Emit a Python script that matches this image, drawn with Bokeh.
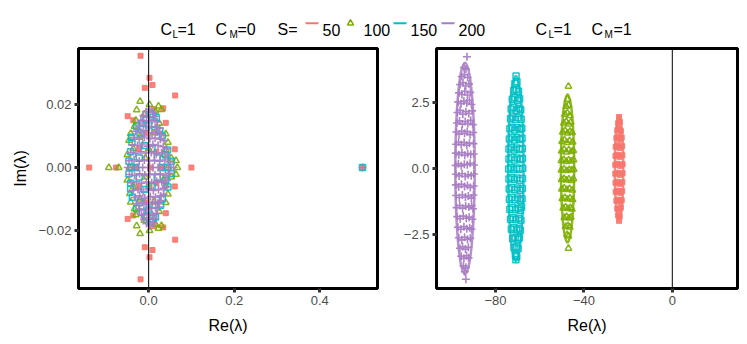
from bokeh.plotting import figure
from bokeh.layouts import column, row
from bokeh.models import Range1d, FixedTicker, Span, Label
from bokeh.embed import file_html
from bokeh.resources import INLINE

# ------------------------------------------------------------------ data
SERIES = ["50", "100", "150", "200"]
COLORS = ["#F8766D", "#7CAE00", "#00BFC4", "#A97DC4"]

# Left panel (C_L=1, C_M=0): eigenvalues (Re, Im)
left_s50 = [
    (-0.139, 0.0), (-0.076, 0.0), (0.100, 0.0), (0.500, 0.0),
    (-0.019, 0.0355), (-0.019, -0.0355), (0.002, 0.0285), (0.002, -0.0285),
    (-0.009, 0.0253), (-0.009, -0.0253), (0.009, 0.0262), (0.009, -0.0262),
    (0.062, 0.0229), (0.062, -0.0229), (-0.049, 0.0163), (-0.049, -0.0163),
    (-0.036, 0.0150), (-0.036, -0.0152), (0.034, 0.0188), (0.034, -0.0190),
    (0.040, 0.0142), (0.040, -0.0145), (0.061, 0.0058), (0.061, -0.0060),
    (0.012, 0.0186), (0.012, -0.0186), (-0.022, 0.0060), (-0.022, -0.0060),
    (0.018, 0.0050), (0.018, -0.0050), (-0.005, 0.0110), (-0.005, -0.0110),
    (-0.030, 0.0), (0.030, 0.0), (0.005, 0.0),
]
left_s100 = [
    (-0.093, 0.0), (-0.070, 0.0), (0.067, 0.0), (0.064, 0.0022), (0.064, -0.0022),
    (-0.020, 0.0210), (-0.020, -0.0210), (0.002, 0.0200), (0.002, -0.0200),
    (-0.028, 0.0183), (-0.028, -0.0185), (0.023, 0.0195), (0.023, -0.0193),
    (0.030, 0.0184), (0.030, -0.0184), (0.016, 0.0178), (0.016, -0.0180),
    (-0.042, 0.0108), (-0.042, -0.0110), (-0.046, 0.0086), (-0.044, -0.0083),
    (0.040, 0.0107), (0.040, -0.0111), (0.045, 0.0080), (0.045, -0.0084),
    (0.040, 0.0057), (0.040, -0.0057), (-0.050, 0.0040), (-0.050, -0.0040),
    (-0.033, 0.0131), (-0.033, -0.0131), (0.053, 0.0030), (0.053, -0.0030),
    (-0.030, 0.0150), (-0.030, -0.0150), (-0.010, 0.0170), (-0.010, -0.0168),
    (0.025, 0.0140), (0.025, -0.0140), (-0.036, 0.0060), (-0.036, -0.0060),
    (0.034, 0.0040), (0.034, -0.0040), (-0.020, 0.0100), (-0.020, -0.0100),
    (0.012, 0.0110), (0.012, -0.0110), (0.000, 0.0060), (0.000, -0.0060),
    (-0.045, 0.0), (0.045, 0.0), (-0.008, 0.0030), (-0.008, -0.0030),
]
left_s150 = [
    (-0.007, 0.0151), (0.005, 0.0170), (0.018, 0.0158), (-0.015, 0.0140), (0.010, 0.0160),
    (-0.040, 0.0096), (-0.039, 0.0080), (0.026, 0.0117), (0.032, 0.0100), (0.044, 0.0056),
    (-0.046, 0.0020), (0.053, 0.0020), (-0.030, 0.0), (0.030, 0.0), (-0.040, 0.0),
    (0.045, 0.0), (0.500, 0.0), (-0.042, 0.0050), (0.040, 0.0040),
    (-0.020, 0.0110), (0.015, 0.0120), (-0.028, 0.0130), (0.000, 0.0135),
    (-0.010, 0.0070), (0.008, 0.0060), (0.020, 0.0030), (-0.022, 0.0030),
    (-0.007, -0.0156), (0.005, -0.0174), (0.016, -0.0157), (-0.015, -0.0142), (0.010, -0.0162),
    (-0.042, -0.0068), (-0.038, -0.0094), (0.028, -0.0120), (0.032, -0.0100), (0.045, -0.0062),
    (-0.046, -0.0020), (0.053, -0.0020), (-0.042, -0.0050), (0.040, -0.0040),
    (-0.020, -0.0110), (0.015, -0.0120), (-0.028, -0.0130), (0.000, -0.0135),
    (-0.010, -0.0070), (0.008, -0.0060), (0.020, -0.0030), (-0.022, -0.0030),
]
left_s200 = [
    (0.002, 0.0185), (-0.006, 0.0178), (0.010, 0.0175),
    (-0.012, 0.0165), (0.000, 0.0160), (0.014, 0.0162),
    (-0.018, 0.0150), (-0.005, 0.0148), (0.008, 0.0150), (0.020, 0.0145),
    (-0.024, 0.0132), (-0.012, 0.0135), (0.002, 0.0130), (0.015, 0.0128), (0.026, 0.0125),
    (-0.030, 0.0115), (-0.018, 0.0112), (-0.006, 0.0118), (0.008, 0.0110), (0.020, 0.0113), (0.030, 0.0105),
    (-0.034, 0.0095), (-0.022, 0.0090), (-0.010, 0.0097), (0.003, 0.0092), (0.015, 0.0094), (0.027, 0.0090), (0.036, 0.0085),
    (-0.038, 0.0072), (-0.026, 0.0070), (-0.014, 0.0075), (-0.002, 0.0068), (0.010, 0.0073), (0.022, 0.0070), (0.034, 0.0066), (0.042, 0.0060),
    (-0.042, 0.0048), (-0.030, 0.0045), (-0.018, 0.0050), (-0.006, 0.0046), (0.006, 0.0048), (0.018, 0.0044), (0.030, 0.0047), (0.044, 0.0040),
    (-0.046, 0.0022), (-0.034, 0.0025), (-0.022, 0.0020), (-0.010, 0.0024), (0.002, 0.0021), (0.014, 0.0023), (0.026, 0.0020), (0.038, 0.0024), (0.050, 0.0018),
    (-0.049, 0.0), (-0.038, 0.0), (-0.026, 0.0), (-0.014, 0.0), (-0.002, 0.0), (0.010, 0.0), (0.022, 0.0), (0.034, 0.0), (0.046, 0.0), (0.058, 0.0), (0.500, 0.0),
    (-0.045, -0.0022), (-0.033, -0.0025), (-0.021, -0.0020), (-0.009, -0.0024), (0.003, -0.0021), (0.015, -0.0023), (0.027, -0.0020), (0.039, -0.0024), (0.049, -0.0018),
    (-0.041, -0.0048), (-0.029, -0.0045), (-0.017, -0.0050), (-0.005, -0.0046), (0.007, -0.0048), (0.019, -0.0044), (0.031, -0.0047), (0.043, -0.0040),
    (-0.037, -0.0072), (-0.025, -0.0070), (-0.013, -0.0075), (-0.001, -0.0068), (0.011, -0.0073), (0.023, -0.0070), (0.035, -0.0066), (0.041, -0.0060),
    (-0.033, -0.0095), (-0.021, -0.0090), (-0.009, -0.0097), (0.004, -0.0092), (0.016, -0.0094), (0.028, -0.0090), (0.035, -0.0085),
    (-0.029, -0.0115), (-0.017, -0.0112), (-0.005, -0.0118), (0.009, -0.0110), (0.021, -0.0113), (0.029, -0.0105),
    (-0.023, -0.0132), (-0.011, -0.0135), (0.003, -0.0130), (0.016, -0.0128), (0.025, -0.0125),
    (-0.017, -0.0150), (-0.004, -0.0148), (0.009, -0.0150), (0.019, -0.0145),
    (-0.011, -0.0165), (0.001, -0.0160), (0.013, -0.0162),
    (0.003, -0.0185), (-0.005, -0.0178), (0.011, -0.0175),
]

# Right panel (C_L=1, C_M=1): eigenvalues (Re, Im)
right_s50 = [
    (-24.1, 1.95), (-24.5, 1.72), (-23.7, 1.76), (-24.9, 1.45), (-24.1, 1.50), (-23.3, 1.42),
    (-25.3, 1.15), (-24.5, 1.20), (-23.6, 1.10), (-22.9, 1.17), (-25.6, 0.82), (-24.7, 0.88),
    (-23.8, 0.78), (-22.7, 0.85), (-25.7, 0.48), (-24.8, 0.52), (-23.9, 0.44), (-22.6, 0.50),
    (-25.8, 0.14), (-24.9, 0.18), (-23.6, 0.10), (-22.5, 0.16), (-25.8, -0.20), (-24.6, -0.16),
    (-23.7, -0.24), (-22.5, -0.18), (-25.7, -0.54), (-24.8, -0.50), (-23.8, -0.58), (-22.6, -0.52),
    (-25.6, -0.88), (-24.6, -0.84), (-23.5, -0.92), (-22.7, -0.86), (-25.3, -1.22), (-24.4, -1.18),
    (-23.5, -1.26), (-22.9, -1.20), (-24.9, -1.52), (-24.0, -1.56), (-23.3, -1.48),
    (-24.5, -1.78), (-23.8, -1.82), (-24.1, -1.98),
]
right_s100 = [
    (-47.0, 3.11), (-47.4, 2.62), (-48.0, 2.35), (-46.9, 2.40),
    (-48.6, 2.05), (-47.5, 2.10), (-46.4, 2.00),
    (-49.1, 1.72), (-48.0, 1.78), (-46.9, 1.68), (-45.9, 1.75),
    (-49.6, 1.38), (-48.5, 1.44), (-47.4, 1.34), (-46.3, 1.40), (-45.3, 1.36),
    (-49.9, 1.02), (-48.8, 1.08), (-47.6, 0.98), (-46.5, 1.05), (-45.1, 1.00),
    (-50.1, 0.66), (-49.0, 0.72), (-47.9, 0.62), (-46.8, 0.70), (-45.7, 0.64), (-44.8, 0.68),
    (-50.2, 0.30), (-49.1, 0.34), (-48.0, 0.26), (-46.9, 0.32), (-45.8, 0.28), (-44.7, 0.33),
    (-50.2, -0.06), (-49.0, -0.02), (-47.8, -0.08), (-46.6, -0.04), (-45.5, -0.06), (-44.6, -0.03),
    (-50.1, -0.42), (-49.0, -0.38), (-47.9, -0.44), (-46.8, -0.40), (-45.6, -0.46), (-44.7, -0.39),
    (-50.0, -0.78), (-48.9, -0.74), (-47.7, -0.80), (-46.5, -0.76), (-45.2, -0.82),
    (-49.8, -1.14), (-48.6, -1.10), (-47.4, -1.16), (-46.3, -1.12), (-45.1, -1.18),
    (-49.4, -1.50), (-48.3, -1.46), (-47.2, -1.52), (-46.1, -1.48), (-45.4, -1.54),
    (-48.9, -1.86), (-47.8, -1.82), (-46.7, -1.88), (-45.9, -1.84),
    (-48.3, -2.20), (-47.2, -2.16), (-46.4, -2.22),
    (-47.6, -2.50), (-47.0, -2.56), (-47.0, -3.02),
]
right_s150 = [
    (-70.7, 3.50), (-71.2, 3.22), (-70.3, 3.28), (-71.7, 2.95), (-70.6, 3.00), (-69.6, 2.92),
    (-72.4, 2.62), (-71.2, 2.68), (-70.1, 2.58), (-69.1, 2.64),
    (-72.9, 2.25), (-71.8, 2.32), (-70.6, 2.20), (-69.5, 2.28), (-68.6, 2.22),
    (-73.2, 1.88), (-72.1, 1.95), (-71.0, 1.85), (-69.9, 1.92), (-68.4, 1.86),
    (-73.5, 1.50), (-72.4, 1.56), (-71.3, 1.46), (-70.2, 1.54), (-69.1, 1.48), (-68.1, 1.52),
    (-73.7, 1.12), (-72.5, 1.18), (-71.4, 1.08), (-70.3, 1.16), (-69.2, 1.10), (-68.0, 1.14),
    (-73.9, 0.74), (-72.8, 0.80), (-71.6, 0.70), (-70.5, 0.78), (-69.3, 0.72), (-67.9, 0.76),
    (-73.9, 0.36), (-72.6, 0.42), (-71.4, 0.32), (-70.2, 0.40), (-69.0, 0.34), (-67.8, 0.38),
    (-74.0, -0.02), (-72.9, 0.04), (-71.7, -0.04), (-70.5, 0.02), (-69.3, -0.03), (-67.7, 0.01),
    (-73.9, -0.40), (-72.7, -0.34), (-71.5, -0.42), (-70.3, -0.36), (-69.1, -0.44), (-67.8, -0.38),
    (-73.8, -0.78), (-72.6, -0.72), (-71.3, -0.80), (-70.1, -0.74), (-68.9, -0.82), (-67.9, -0.76),
    (-73.7, -1.16), (-72.5, -1.10), (-71.2, -1.18), (-70.0, -1.12), (-68.8, -1.20), (-68.0, -1.14),
    (-73.5, -1.54), (-72.3, -1.48), (-71.0, -1.56), (-69.8, -1.50), (-68.7, -1.58), (-68.2, -1.46),
    (-73.2, -1.92), (-72.0, -1.86), (-70.8, -1.94), (-69.6, -1.88), (-68.5, -1.96),
    (-72.8, -2.30), (-71.7, -2.24), (-70.5, -2.32), (-69.3, -2.26), (-68.8, -2.34),
    (-72.2, -2.66), (-71.1, -2.60), (-70.0, -2.68), (-69.2, -2.62),
    (-71.6, -3.00), (-70.6, -2.96), (-69.8, -3.04), (-71.0, -3.28), (-70.4, -3.34), (-70.8, -3.45),
]
right_s200 = [
    (-92.9, 4.23), (-94.2, 3.82), (-93.4, 3.76),
    (-95.3, 3.48), (-94.1, 3.55), (-92.6, 3.44),
    (-96.0, 3.18), (-94.7, 3.25), (-93.5, 3.12), (-92.0, 3.20),
    (-96.5, 2.86), (-95.2, 2.80), (-93.9, 2.92), (-92.7, 2.78), (-91.4, 2.88),
    (-96.9, 2.52), (-95.6, 2.45), (-94.3, 2.55), (-93.0, 2.48), (-91.8, 2.58), (-90.9, 2.42),
    (-97.2, 2.12), (-96.0, 2.20), (-94.8, 2.05), (-93.4, 2.15), (-92.1, 2.08), (-90.6, 2.18),
    (-97.4, 1.72), (-96.3, 1.80), (-95.0, 1.68), (-93.7, 1.78), (-92.5, 1.70), (-91.2, 1.82), (-90.3, 1.66),
    (-97.7, 1.38), (-96.5, 1.30), (-95.3, 1.42), (-94.0, 1.33), (-92.8, 1.40), (-91.5, 1.28), (-90.1, 1.36),
    (-97.8, 0.92), (-96.7, 1.00), (-95.5, 0.90), (-94.2, 0.98), (-93.0, 0.88), (-91.8, 0.96), (-90.0, 0.94),
    (-97.9, 0.58), (-96.6, 0.52), (-95.2, 0.60), (-93.9, 0.50), (-92.6, 0.57), (-91.2, 0.53), (-89.9, 0.55),
    (-98.0, 0.12), (-96.8, 0.18), (-95.5, 0.10), (-94.1, 0.16), (-92.8, 0.14), (-91.5, 0.20), (-89.8, 0.13),
    (-97.9, -0.22), (-96.5, -0.28), (-95.1, -0.20), (-93.7, -0.30), (-92.4, -0.24), (-91.0, -0.27), (-89.8, -0.21),
    (-97.9, -0.62), (-96.7, -0.70), (-95.4, -0.60), (-94.0, -0.68), (-92.7, -0.64), (-91.4, -0.72), (-89.9, -0.66),
    (-97.8, -1.02), (-96.4, -1.10), (-95.0, -1.00), (-93.6, -1.08), (-92.3, -1.04), (-90.9, -1.12), (-90.0, -1.00),
    (-97.6, -1.48), (-96.2, -1.40), (-94.9, -1.50), (-93.5, -1.42), (-92.1, -1.46), (-90.8, -1.40), (-90.2, -1.52),
    (-97.3, -1.82), (-96.0, -1.90), (-94.6, -1.80), (-93.2, -1.88), (-91.9, -1.84), (-90.5, -1.92),
    (-97.0, -2.22), (-95.7, -2.30), (-94.3, -2.20), (-93.0, -2.28), (-91.7, -2.24), (-90.9, -2.30),
    (-96.6, -2.62), (-95.3, -2.70), (-94.0, -2.60), (-92.7, -2.68), (-91.4, -2.64),
    (-96.1, -3.02), (-94.9, -2.96), (-93.6, -3.05), (-92.3, -2.98),
    (-95.5, -3.32), (-94.3, -3.40), (-93.1, -3.30), (-92.2, -3.38),
    (-94.5, -3.68), (-93.4, -3.74), (-93.9, -3.90), (-93.4, -4.19),
]
# Ellipse outlines of the right-panel clusters (centre on real axis, full widths)
right_ellipse_cx = [-24.1, -47.4, -70.8, -93.8]
right_ellipse_w = [3.8, 6.0, 7.0, 8.8]
right_ellipse_h = [3.9, 5.6, 7.0, 8.0]

left_xticks, left_xlabels = [0.0, 0.2, 0.4], ["0.0", "0.2", "0.4"]
left_yticks, left_ylabels = [-0.02, 0.0, 0.02], ["\u22120.02", "0.00", "0.02"]
right_xticks, right_xlabels = [-80, -40, 0], ["\u221280", "\u221240", "0"]
right_yticks, right_ylabels = [-2.5, 0.0, 2.5], ["\u22122.5", "0.0", "2.5"]

# ------------------------------------------------------------------ style
FONT = "Liberation Sans"
MARKERS = [
    dict(marker="square", size=5, fill_color=COLORS[0], line_color=COLORS[0], fill_alpha=0.9, line_alpha=0.9),
    dict(marker="triangle", size=6.5, fill_color=None, line_color=COLORS[1], line_width=1.5, line_alpha=0.9),
    dict(marker="square", size=6, fill_color=None, line_color=COLORS[2], line_width=1.5, line_alpha=0.9),
    dict(marker="cross", size=8, line_color=COLORS[3], line_width=1.6, line_alpha=0.95),
]


def style_axis(ax, ticks, labels):
    ax.ticker = FixedTicker(ticks=ticks, minor_ticks=[])
    ax.major_label_overrides = {t: l for t, l in zip(ticks, labels)}
    ax.axis_line_color = None
    ax.major_tick_in = 0
    ax.major_tick_out = 4
    ax.major_tick_line_width = 3
    ax.major_tick_line_color = "#333333"
    ax.minor_tick_line_color = None
    ax.major_label_text_font = FONT
    ax.major_label_text_font_size = "13px"
    ax.major_label_text_color = "#4D4D4D"
    ax.major_label_standoff = 3
    ax.axis_label_text_font = FONT
    ax.axis_label_text_font_size = "16px"
    ax.axis_label_text_font_style = "normal"
    ax.axis_label_text_color = "black"
    ax.axis_label_standoff = 9


def make_panel(width, xr, yr, bl, br, xt, xl, yt, yl, ylabel):
    p = figure(width=width, height=296, x_range=Range1d(*xr), y_range=Range1d(*yr),
               output_backend="svg", toolbar_location=None,
               min_border_left=bl, min_border_right=br, min_border_top=2, min_border_bottom=54)
    p.grid.visible = False
    p.outline_line_color = "black"
    p.outline_line_width = 3
    p.outline_line_alpha = 1
    p.background_fill_color = "white"
    p.border_fill_color = "white"
    style_axis(p.xaxis[0], xt, xl)
    style_axis(p.yaxis[0], yt, yl)
    p.xaxis[0].axis_label = "Re(\u03bb)"
    if ylabel:
        p.yaxis[0].axis_label = ylabel
        p.yaxis[0].axis_label_standoff = 7
    p.add_layout(Span(location=0, dimension="height", line_color="black", line_width=1))
    return p


left = make_panel(400, (-0.164, 0.535), (-0.0384, 0.0378), 78, 23,
                  left_xticks, left_xlabels, left_yticks, left_ylabels, "Im(\u03bb)")
right = make_panel(345, (-106.7, 29.5), (-4.54, 4.54), 36, 8,
                   right_xticks, right_xlabels, right_yticks, right_ylabels, None)

for pts, mk in zip([left_s50, left_s100, left_s150, left_s200], MARKERS):
    left.scatter([q[0] for q in pts], [q[1] for q in pts], **mk)

right.ellipse(x=right_ellipse_cx, y=[0] * 4, width=right_ellipse_w, height=right_ellipse_h,
              fill_color=None, line_color=COLORS, line_width=2.5, line_alpha=0.85)
for pts, mk in zip([right_s50, right_s100, right_s150, right_s200], MARKERS):
    right.scatter([q[0] for q in pts], [q[1] for q in pts], **mk)

# ------------------------------------------------------------------ header (titles + legend)
header = figure(width=745, height=46, x_range=Range1d(0, 745), y_range=Range1d(0, 46),
                output_backend="svg", toolbar_location=None, x_axis_type=None, y_axis_type=None,
                title=None,
                min_border_left=0, min_border_right=0, min_border_top=0, min_border_bottom=0)
header.grid.visible = False
header.outline_line_color = None

BASE, SUB = 17, 12
pieces = [
    ("C", 160, BASE, "16px"), ("L", 172, SUB, "10px"), ("=1", 177, BASE, "16px"),
    ("C", 215, BASE, "16px"), ("M", 229, SUB, "10px"), ("=0", 237, BASE, "16px"),
    ("S=", 277, BASE, "16px"),
    ("50", 322, BASE, "16px"), ("100", 363, BASE, "16px"),
    ("150", 410, BASE, "16px"), ("200", 458, BASE, "16px"),
    ("C", 535, BASE, "16px"), ("L", 548, SUB, "10px"), ("=1", 553, BASE, "16px"),
    ("C", 591, BASE, "16px"), ("M", 604, SUB, "10px"), ("=1", 613, BASE, "16px"),
]
for txt, x, y, fs in pieces:
    header.add_layout(Label(x=x, y=y, text=txt, text_font=FONT, text_font_size=fs,
                            text_baseline="alphabetic", text_align="left", text_color="black"))

KEY_Y = 23.3
for i, x0 in [(0, 305), (2, 393), (3, 441)]:
    header.line([x0, x0 + 13], [KEY_Y, KEY_Y], line_color=COLORS[i], line_width=2)
header.scatter([350], [KEY_Y], marker="triangle", size=6, fill_color=None,
               line_color=COLORS[1], line_width=1.5)

layout = column(header, row(left, right))
open("out.html", "w").write(file_html(layout, INLINE))
